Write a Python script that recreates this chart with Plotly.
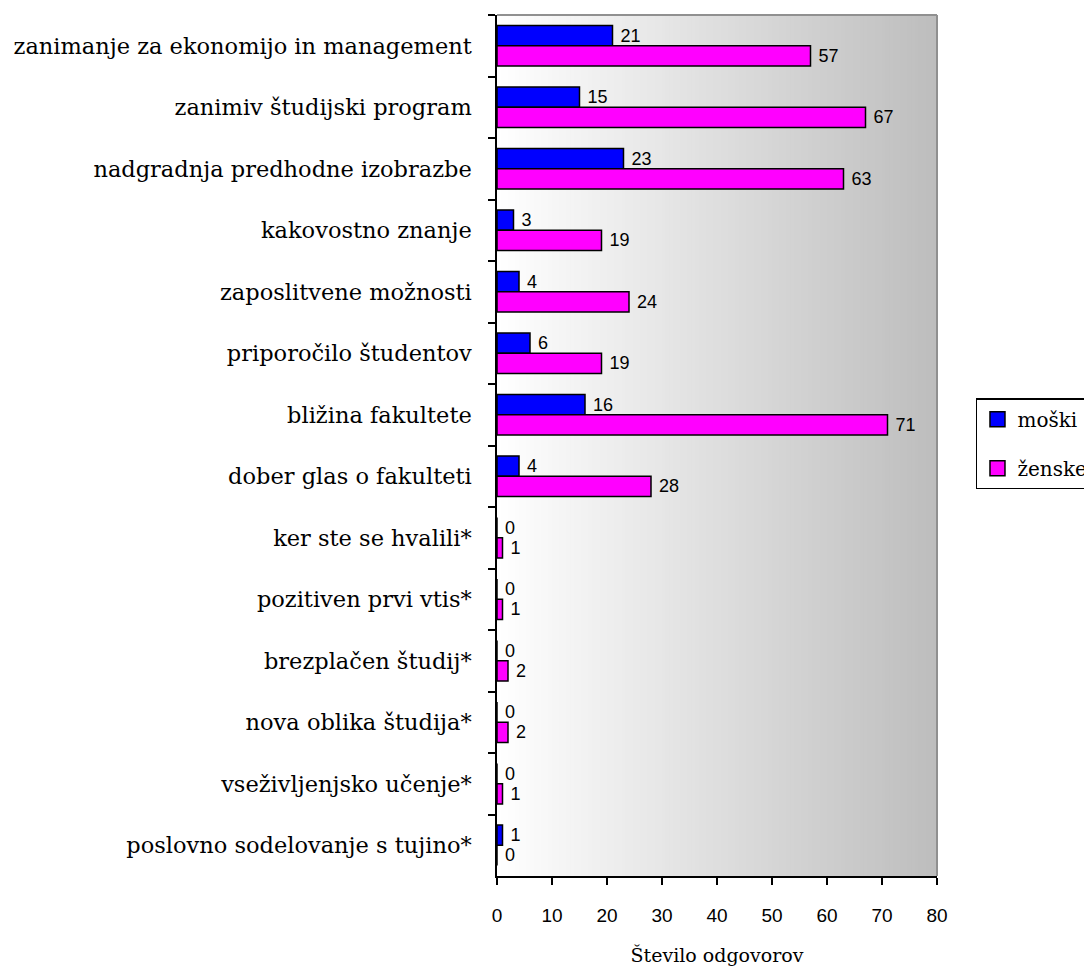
import plotly.graph_objects as go

categories = [
    "zanimanje za ekonomijo in management",
    "zanimiv študijski program",
    "nadgradnja predhodne izobrazbe",
    "kakovostno znanje",
    "zaposlitvene možnosti",
    "priporočilo študentov",
    "bližina fakultete",
    "dober glas o fakulteti",
    "ker ste se hvalili*",
    "pozitiven prvi vtis*",
    "brezplačen študij*",
    "nova oblika študija*",
    "vseživljenjsko učenje*",
    "poslovno sodelovanje s tujino*",
]
moski = [21, 15, 23, 3, 4, 6, 16, 4, 0, 0, 0, 0, 0, 1]
zenske = [57, 67, 63, 19, 24, 19, 71, 28, 1, 1, 2, 2, 1, 0]
x_ticks = [0, 10, 20, 30, 40, 50, 60, 70, 80]

series = [("moški", moski, "#0000ff"), ("ženske", zenske, "#ff00ff")]
label_font = dict(family="Liberation Sans", size=18, color="black")

fig = go.Figure()
for name, vals, col in series:
    fig.add_trace(go.Bar(
        name=name, y=categories, x=vals, orientation="h",
        marker=dict(color=col, line=dict(color="black", width=1.5)),
        text=["\u00a0" + str(v) for v in vals], textposition="outside", cliponaxis=False,
        textfont=label_font, showlegend=False,
    ))
# legend entries with larger square symbols
for name, vals, col in series:
    fig.add_trace(go.Scatter(
        name=name, x=[None], y=[None], mode="markers", legendgroup=name,
        marker=dict(symbol="square", size=15, color=col, line=dict(color="black", width=1.5)),
        showlegend=True,
    ))

# gradient plot background (white -> grey) built from thin strips
shapes = []
n = 120
for i in range(n):
    t = (i + 0.5) / n
    c = int(round(255 - (255 - 189) * t))
    shapes.append(dict(type="rect", xref="paper", yref="paper",
                       x0=i / n, x1=(i + 1) / n + 0.002, y0=0, y1=1,
                       fillcolor=f"rgb({c},{c},{c})", line=dict(width=0),
                       layer="below"))
# grey frame top and right
shapes.append(dict(type="line", xref="paper", yref="paper", x0=0, x1=1, y0=1, y1=1,
                   line=dict(color="#909090", width=2), layer="above"))
shapes.append(dict(type="line", xref="paper", yref="paper", x0=1, x1=1, y0=0, y1=1,
                   line=dict(color="#909090", width=2), layer="above"))

fig.update_layout(
    width=1084, height=959,
    margin=dict(l=489, r=155, t=7, b=91, autoexpand=False),
    paper_bgcolor="white", plot_bgcolor="rgba(0,0,0,0)",
    barmode="group", bargap=0.34, bargroupgap=0.0,
    shapes=shapes,
    showlegend=True,
    legend=dict(x=1.0886, y=0.555, xanchor="left", yanchor="top",
                bordercolor="black", borderwidth=1.5, bgcolor="white",
                font=dict(family="DejaVu Serif", size=20, color="black"),
                traceorder="grouped", tracegroupgap=20, itemwidth=30),
    xaxis=dict(range=[0, 80], tickvals=x_ticks, ticktext=[str(v) for v in x_ticks],
               showgrid=False, zeroline=False, showline=True, linecolor="black", linewidth=1.5,
               ticks="outside", ticklen=7, tickcolor="black", tickwidth=1.5,
               tickfont=dict(family="Liberation Sans", size=19, color="black"),
               ticklabelstandoff=14,
               title=dict(text="Število odgovorov", standoff=24,
                          font=dict(family="DejaVu Serif", size=19, color="black"))),
    yaxis=dict(type="category", autorange="reversed", showgrid=False, zeroline=False,
               showline=True, linecolor="black", linewidth=1.5,
               ticks="outside", ticklen=7, tickcolor="black", tickwidth=1.5,
               tickson="boundaries", ticklabelstandoff=19,
               tickfont=dict(family="DejaVu Serif", size=22.5, color="black")),
)

fig.write_html("out.html")
